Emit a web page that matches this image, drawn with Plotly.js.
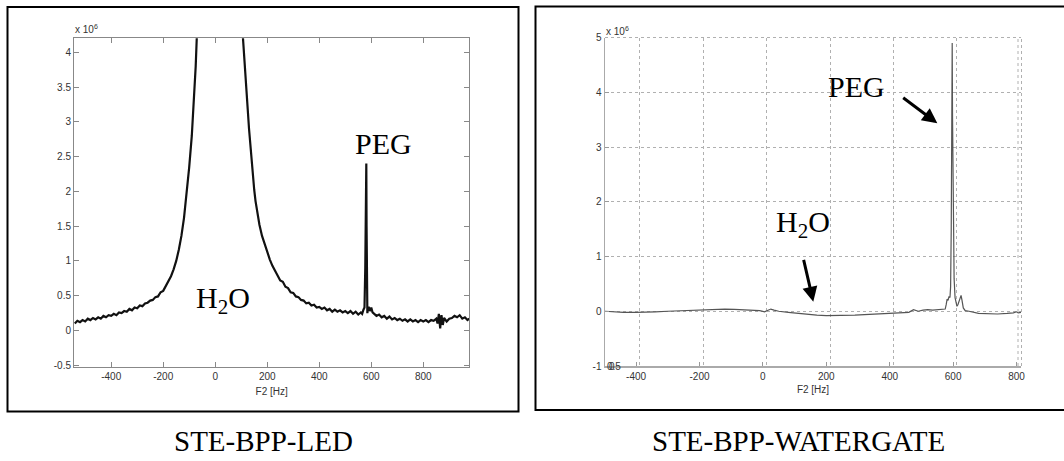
<!DOCTYPE html>
<html>
<head>
<meta charset="utf-8">
<script src="https://cdn.plot.ly/plotly-3.0.1.min.js"></script>
<style>html,body{margin:0;padding:0;background:#fff;}#chart{width:1064px;height:461px;}</style>
</head>
<body>
<div id="chart"></div>
<script>
// ---- Left panel: STE-BPP-LED spectrum (values in units of 1e6) ----
var ledFreq = [-540,-530,-520,-510,-500,-490,-480,-470,-460,-450,-440,-430,-420,-410,-400,-390,-380,-370,-360,-350,-340,-330,-320,-310,-300,-290,-280,-270,-260,-250,-240,-230,-220,-210,-200,-190,-180,-170,-160,-150,-140,-130,-120,-110,-100,-90,-80,-75,-70,-65,-60,-50,-40,-30,-20,-10,0,10,20,30,40,50,60,70,80,90,100,105,110,115,120,125,130,135,140,145,150,155,160,170,180,190,200,210,220,230,240,250,260,270,280,290,300,310,320,330,340,350,360,370,380,390,400,410,420,430,440,450,460,470,480,490,500,510,520,530,540,550,560,565,570,574,577,579,580,581,582,583,584,585,587,590,595,600,605,610,620,630,640,650,660,670,680,690,700,710,720,730,740,750,760,770,780,790,800,810,820,830,840,850,855,860,865,870,875,880,890,900,910,920,930,940,950,960,970,977];
var ledInt = [0.10,0.14,0.12,0.15,0.13,0.17,0.15,0.18,0.16,0.19,0.17,0.21,0.19,0.22,0.21,0.24,0.22,0.26,0.25,0.28,0.27,0.31,0.29,0.33,0.32,0.36,0.35,0.39,0.40,0.43,0.44,0.48,0.49,0.55,0.57,0.64,0.70,0.78,0.88,1.00,1.16,1.36,1.62,1.95,2.35,2.80,3.40,3.80,4.30,4.9,5.6,7.5,10,14,20,28,36,40,38,30,22,15,11,8.2,6.5,5.4,4.6,4.30,3.98,3.70,3.45,3.18,2.90,2.65,2.42,2.20,2.02,1.86,1.74,1.52,1.36,1.24,1.12,1.02,0.93,0.86,0.80,0.72,0.70,0.63,0.61,0.55,0.54,0.49,0.48,0.44,0.43,0.39,0.40,0.36,0.37,0.33,0.34,0.31,0.33,0.29,0.31,0.27,0.30,0.27,0.29,0.26,0.28,0.25,0.28,0.24,0.27,0.23,0.26,0.24,0.30,0.33,0.9,2.05,1.2,2.40,1.5,0.6,0.35,0.25,0.30,0.34,0.28,0.33,0.26,0.24,0.21,0.23,0.19,0.21,0.17,0.20,0.16,0.18,0.15,0.17,0.14,0.16,0.13,0.16,0.13,0.15,0.12,0.15,0.13,0.15,0.12,0.15,0.14,0.17,0.10,0.24,0.03,0.22,0.08,0.18,0.13,0.17,0.18,0.21,0.19,0.22,0.17,0.19,0.15,0.17];

// ---- Right panel: STE-BPP-WATERGATE spectrum (values in units of 1e6) ----
var wgFreq = [-498,-470,-440,-400,-370,-340,-300,-260,-220,-180,-150,-120,-90,-60,-30,-10,5,15,25,35,50,80,110,140,170,200,230,260,290,320,350,380,410,440,460,475,482,490,505,520,535,550,565,575,578,581,584,587,590,592,594,596,597,598,600,603,606,609,612,615,619,622,625,628,632,638,650,680,710,740,770,790,800,805,814];
var wgInt = [0.00,-0.01,-0.02,-0.02,-0.02,-0.01,0.00,0.01,0.02,0.03,0.04,0.04,0.035,0.03,0.02,0.01,-0.01,0.01,0.04,0.02,0.00,-0.02,-0.04,-0.06,-0.07,-0.08,-0.08,-0.08,-0.07,-0.06,-0.05,-0.04,-0.04,-0.03,-0.02,0.03,0.01,0.00,0.02,0.03,0.02,0.03,0.03,0.04,0.12,0.22,0.20,0.27,0.25,0.45,1.5,4.7,4.9,3.6,1.6,0.6,0.25,0.12,0.09,0.12,0.2,0.27,0.29,0.2,0.06,0.01,0.00,-0.04,-0.05,-0.05,-0.04,-0.03,-0.01,-0.03,-0.02];

// ---- Tick labels ----
var freqTicks = [-400,-200,0,200,400,600,800];
var freqTickText = ['-400','-200','0','200','400','600','800'];
var ledYTicks = [-0.5,0,0.5,1,1.5,2,2.5,3,3.5,4];
var ledYTickText = ['-0.5','0','0.5','1','1.5','2','2.5','3','3.5','4'];
var wgYTicks = [-1,0,1,2,3,4,5];
var wgYTickText = ['-1','0','1','2','3','4','5'];
var captions = ['STE-BPP-LED','STE-BPP-WATERGATE'];

var W = 1064, H = 461;
function px(x){return x/W;}
function py(y){return 1 - y/H;}

var tickFont = {family:'Liberation Sans, Arial, sans-serif', size:10, color:'#333'};
var serif = 'Liberation Serif, Times New Roman, serif';

var traces = [
  {x: ledFreq, y: ledInt, type:'scatter', mode:'lines', xaxis:'x', yaxis:'y',
   line:{color:'#111', width:2.2}, hoverinfo:'skip', showlegend:false},
  {x: wgFreq, y: wgInt, type:'scatter', mode:'lines', xaxis:'x2', yaxis:'y2',
   line:{color:'#555', width:1.2}, hoverinfo:'skip', showlegend:false},
  {x: [], y: [], type:'scatter', mode:'lines', xaxis:'x3', yaxis:'y2', showlegend:false, hoverinfo:'skip'}
];

var layout = {
  width: W, height: H,
  margin:{l:0,r:0,t:0,b:0},
  paper_bgcolor:'#fff', plot_bgcolor:'#fff',
  showlegend:false,
  xaxis:{domain:[px(74), px(469.3)], range:[-543, 977], anchor:'y',
    tickvals:freqTicks, ticktext:freqTickText, ticks:'inside', ticklen:5, tickcolor:'#888',
    showline:true, linecolor:'#888', linewidth:1, mirror:'ticks', showgrid:false, zeroline:false,
    tickfont:tickFont, title:{text:'F2 [Hz]', font:tickFont, standoff:7}},
  yaxis:{domain:[py(366.7), py(38.3)], range:[-0.52, 4.2], anchor:'x',
    tickvals:ledYTicks, ticktext:ledYTickText, ticks:'inside', ticklen:5, tickcolor:'#888',
    showline:true, linecolor:'#888', linewidth:1, mirror:'ticks', showgrid:false, zeroline:false,
    tickfont:tickFont},
  xaxis2:{domain:[px(605), px(1021)], range:[-498, 814], anchor:'y2',
    tickvals:freqTicks, ticktext:freqTickText, ticks:'inside', ticklen:4, tickcolor:'#999',
    showline:true, linecolor:'#aaa', linewidth:1.5, mirror:false, showgrid:false, zeroline:false,
    tickfont:tickFont, title:{text:'F2 [Hz]', font:tickFont, standoff:5}},
  xaxis3:{domain:[px(605), px(1021)], range:[-510, 802], anchor:'y2', overlaying:'x2',
    tickvals:freqTicks, showticklabels:false, ticks:'', showline:false,
    showgrid:true, gridcolor:'#b0b0b0', griddash:'dot', gridwidth:1, zeroline:false},
  yaxis2:{domain:[py(366), py(37.5)], range:[-1, 5], anchor:'x2',
    tickvals:wgYTicks, ticktext:wgYTickText, ticks:'inside', ticklen:4, tickcolor:'#999',
    showline:true, linecolor:'#aaa', linewidth:1.5, mirror:false,
    showgrid:true, gridcolor:'#b0b0b0', griddash:'dot', gridwidth:1, zeroline:false,
    tickfont:tickFont},
  shapes:[
    {type:'rect', xref:'paper', yref:'paper', x0:px(7.5), x1:px(518.5), y0:py(411.5), y1:py(7), line:{color:'#000', width:2}},
    {type:'rect', xref:'paper', yref:'paper', x0:px(535.5), x1:px(1068), y0:py(410), y1:py(6.5), line:{color:'#000', width:2}},
    {type:'line', xref:'paper', yref:'paper', x0:px(605), x1:px(1021), y0:py(37.5), y1:py(37.5), line:{color:'#b0b0b0', width:1, dash:'dot'}},
    {type:'line', xref:'paper', yref:'paper', x0:px(1018), x1:px(1018), y0:py(366), y1:py(37.5), line:{color:'#b0b0b0', width:1, dash:'dot'}},
    {type:'line', xref:'paper', yref:'paper', x0:px(1021.5), x1:px(1021.5), y0:py(366), y1:py(37.5), line:{color:'#b0b0b0', width:1, dash:'dot'}}
  ],
  annotations:[
    {xref:'paper', yref:'paper', x:px(73), y:py(29), xanchor:'left', yanchor:'middle', showarrow:false,
     text:'x 10<sup>6</sup>', font:tickFont},
    {xref:'paper', yref:'paper', x:px(604), y:py(31), xanchor:'left', yanchor:'middle', showarrow:false,
     text:'x 10<sup>6</sup>', font:tickFont},
    {xref:'paper', yref:'paper', x:px(605), y:py(366), xanchor:'left', yanchor:'middle', showarrow:false,
     text:'0.5', font:tickFont},
    {xref:'paper', yref:'paper', x:px(607), y:py(366), xanchor:'left', yanchor:'middle', showarrow:false,
     text:'0', font:tickFont},
    // left panel labels
    {xref:'paper', yref:'paper', x:px(383), y:py(143), xanchor:'center', yanchor:'middle', showarrow:false,
     text:'PEG', font:{family:serif, size:30, color:'#000'}},
    {xref:'paper', yref:'paper', x:px(222.5), y:py(300), xanchor:'center', yanchor:'middle', showarrow:false,
     text:'H<sub>2</sub>O', font:{family:serif, size:30, color:'#000'}},
    // right panel labels
    {xref:'paper', yref:'paper', x:px(856.7), y:py(86), xanchor:'center', yanchor:'middle', showarrow:false,
     text:'PEG', font:{family:serif, size:30, color:'#000'}},
    {xref:'paper', yref:'paper', x:px(803), y:py(224), xanchor:'center', yanchor:'middle', showarrow:false,
     text:'H<sub>2</sub>O', font:{family:serif, size:30, color:'#000'}},
    // arrows
    {xref:'paper', yref:'paper', x:px(937.3), y:py(123.3), ax:-35.6, ay:-26.6, axref:'pixel', ayref:'pixel',
     showarrow:true, text:'', arrowhead:2, arrowsize:1, arrowwidth:3, arrowcolor:'#000'},
    {xref:'paper', yref:'paper', x:px(813.3), y:py(301.7), ax:-10, ay:-43.4, axref:'pixel', ayref:'pixel',
     showarrow:true, text:'', arrowhead:2, arrowsize:1, arrowwidth:3, arrowcolor:'#000'},
    // captions
    {xref:'paper', yref:'paper', x:px(263), y:py(441), xanchor:'center', yanchor:'middle', showarrow:false,
     text:captions[0], font:{family:serif, size:29, color:'#000'}},
    {xref:'paper', yref:'paper', x:px(798), y:py(441), xanchor:'center', yanchor:'middle', showarrow:false,
     text:captions[1], font:{family:serif, size:29, color:'#000'}}
  ]
};

Plotly.newPlot('chart', traces, layout, {staticPlot:true, displayModeBar:false});
</script>
</body>
</html>
